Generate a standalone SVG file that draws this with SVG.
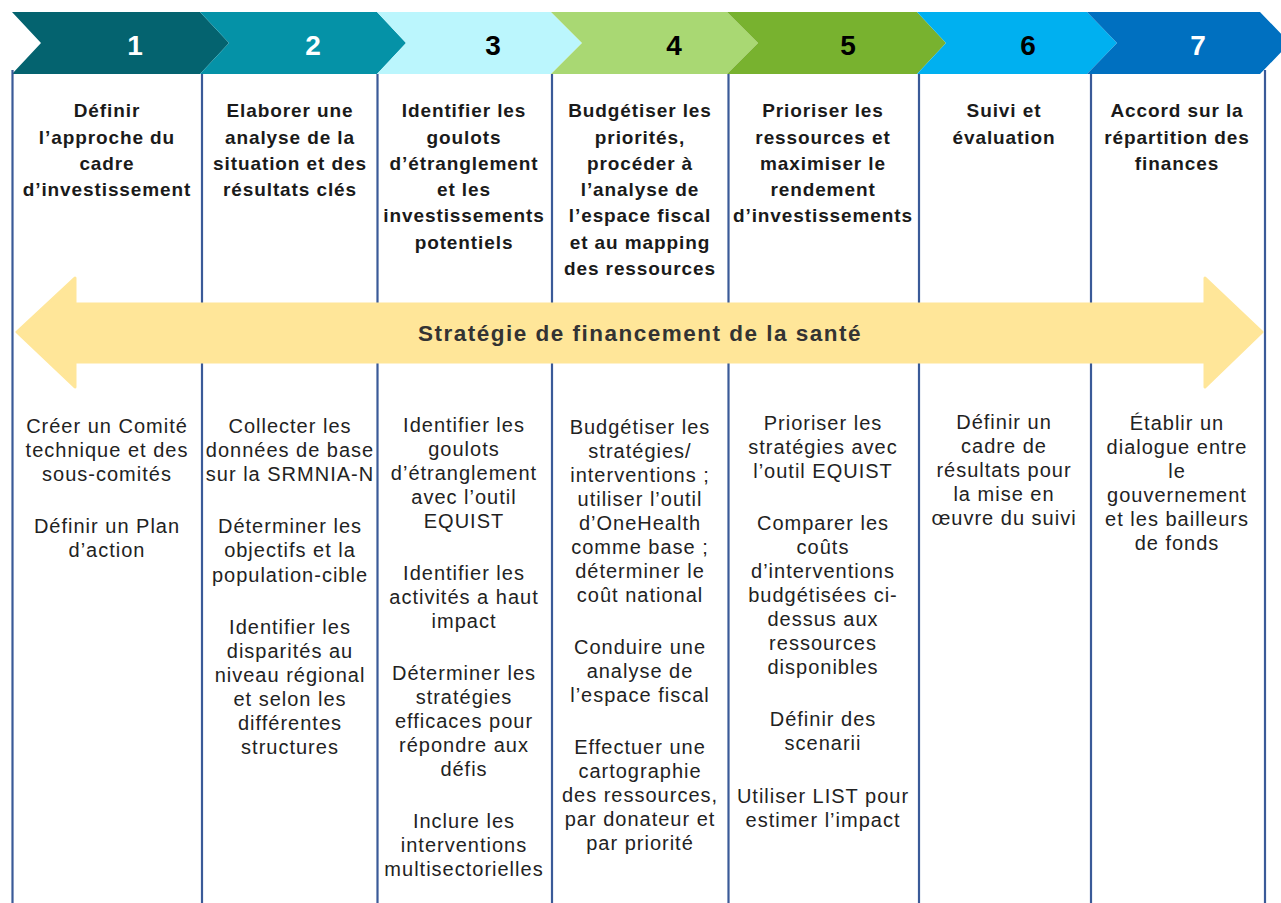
<svg xmlns="http://www.w3.org/2000/svg" width="1281" height="903" viewBox="0 0 1281 903">
<style>
.num{font-family:"Liberation Sans",Arial,sans-serif;font-weight:bold;font-size:28px;text-anchor:middle}
.hd{font-family:"Liberation Sans",Arial,sans-serif;font-weight:bold;font-size:19px;letter-spacing:0.9px;text-anchor:middle;fill:#1a1a1a}
.bd{font-family:"Liberation Sans",Arial,sans-serif;font-size:20px;letter-spacing:1px;text-anchor:middle;fill:#222}
.ttl{font-family:"Liberation Sans",Arial,sans-serif;font-weight:bold;font-size:22.5px;letter-spacing:1.5px;text-anchor:middle;fill:#333}
.div{stroke:#3A5A98;stroke-width:2.2;fill:none}
</style>
<rect width="1281" height="903" fill="#fff"/>
<g id="chevrons">
<polygon points="12,12 200,12 229,43 200,74 12,74 41,43" fill="#04636F"/>
<polygon points="200,12 377,12 406,43 377,74 200,74 229,43" fill="#0592A7"/>
<polygon points="377,12 551,12 582,43 551,74 377,74 406,43" fill="#BBF6FD"/>
<polygon points="551,12 727,12 758,43 727,74 551,74 582,43" fill="#A9D873"/>
<polygon points="727,12 917,12 946,43 917,74 727,74 758,43" fill="#78B22F"/>
<polygon points="917,12 1087,12 1117,43 1087,74 917,74 946,43" fill="#00B0F0"/>
<polygon points="1087,12 1260,12 1290,43 1260,74 1087,74 1117,43" fill="#0070C0"/>
<text class="num" x="135" y="55" fill="#fff">1</text>
<text class="num" x="313" y="55" fill="#fff">2</text>
<text class="num" x="493" y="55" fill="#000">3</text>
<text class="num" x="674" y="55" fill="#000">4</text>
<text class="num" x="848" y="55" fill="#000">5</text>
<text class="num" x="1028" y="55" fill="#000">6</text>
<text class="num" x="1198" y="55" fill="#fff">7</text>
</g>
<g id="connectors">
<line class="div" x1="12.5" y1="70" x2="12.5" y2="903"/>
<line class="div" x1="202" y1="74" x2="202" y2="903"/>
<line class="div" x1="377.5" y1="74" x2="377.5" y2="903"/>
<line class="div" x1="552" y1="74" x2="552" y2="903"/>
<line class="div" x1="728.5" y1="74" x2="728.5" y2="903"/>
<line class="div" x1="919" y1="74" x2="919" y2="903"/>
<line class="div" x1="1091" y1="74" x2="1091" y2="903"/>
<line class="div" x1="1265" y1="70" x2="1265" y2="903"/>
</g>
<g id="arrow">
<polygon points="17,332 75,278 75,304 1205,304 1205,278 1262,332 1205,387 1205,362 75,362 75,387" fill="#FFE699" stroke="#FFE699" stroke-width="3" stroke-linejoin="round"/>
<text class="ttl" x="640" y="341">Stratégie de financement de la santé</text>
</g>
<g id="step1">
<text class="hd" x="107" y="117">Définir</text>
<text class="hd" x="107" y="144">l’approche du</text>
<text class="hd" x="107" y="170">cadre</text>
<text class="hd" x="107" y="196">d’investissement</text>
<text class="bd" x="107" y="433">Créer un Comité</text>
<text class="bd" x="107" y="457">technique et des</text>
<text class="bd" x="107" y="481">sous-comités</text>
<text class="bd" x="107" y="533">Définir un Plan</text>
<text class="bd" x="107" y="557">d’action</text>
</g>
<g id="step2">
<text class="hd" x="290" y="117">Elaborer une</text>
<text class="hd" x="290" y="144">analyse de la</text>
<text class="hd" x="290" y="170">situation et des</text>
<text class="hd" x="290" y="196">résultats clés</text>
<text class="bd" x="290" y="433">Collecter les</text>
<text class="bd" x="290" y="457">données de base</text>
<text class="bd" x="290" y="481">sur la SRMNIA-N</text>
<text class="bd" x="290" y="533">Déterminer les</text>
<text class="bd" x="290" y="557">objectifs et la</text>
<text class="bd" x="290" y="582">population-cible</text>
<text class="bd" x="290" y="634">Identifier les</text>
<text class="bd" x="290" y="658">disparités au</text>
<text class="bd" x="290" y="682">niveau régional</text>
<text class="bd" x="290" y="706">et selon les</text>
<text class="bd" x="290" y="730">différentes</text>
<text class="bd" x="290" y="754">structures</text>
</g>
<g id="step3">
<text class="hd" x="464" y="117">Identifier les</text>
<text class="hd" x="464" y="144">goulots</text>
<text class="hd" x="464" y="170">d’étranglement</text>
<text class="hd" x="464" y="196">et les</text>
<text class="hd" x="464" y="222">investissements</text>
<text class="hd" x="464" y="249">potentiels</text>
<text class="bd" x="464" y="432">Identifier les</text>
<text class="bd" x="464" y="456">goulots</text>
<text class="bd" x="464" y="480">d’étranglement</text>
<text class="bd" x="464" y="504">avec l’outil</text>
<text class="bd" x="464" y="528">EQUIST</text>
<text class="bd" x="464" y="580">Identifier les</text>
<text class="bd" x="464" y="604">activités a haut</text>
<text class="bd" x="464" y="628">impact</text>
<text class="bd" x="464" y="680">Déterminer les</text>
<text class="bd" x="464" y="704">stratégies</text>
<text class="bd" x="464" y="728">efficaces pour</text>
<text class="bd" x="464" y="752">répondre aux</text>
<text class="bd" x="464" y="776">défis</text>
<text class="bd" x="464" y="828">Inclure les</text>
<text class="bd" x="464" y="852">interventions</text>
<text class="bd" x="464" y="876">multisectorielles</text>
</g>
<g id="step4">
<text class="hd" x="640" y="117">Budgétiser les</text>
<text class="hd" x="640" y="144">priorités,</text>
<text class="hd" x="640" y="170">procéder à</text>
<text class="hd" x="640" y="196">l’analyse de</text>
<text class="hd" x="640" y="222">l’espace fiscal</text>
<text class="hd" x="640" y="249">et au mapping</text>
<text class="hd" x="640" y="275">des ressources</text>
<text class="bd" x="640" y="434">Budgétiser les</text>
<text class="bd" x="640" y="458">stratégies/</text>
<text class="bd" x="640" y="482">interventions ;</text>
<text class="bd" x="640" y="506">utiliser l’outil</text>
<text class="bd" x="640" y="530">d’OneHealth</text>
<text class="bd" x="640" y="554">comme base ;</text>
<text class="bd" x="640" y="578">déterminer le</text>
<text class="bd" x="640" y="602">coût national</text>
<text class="bd" x="640" y="654">Conduire une</text>
<text class="bd" x="640" y="678">analyse de</text>
<text class="bd" x="640" y="702">l’espace fiscal</text>
<text class="bd" x="640" y="754">Effectuer une</text>
<text class="bd" x="640" y="778">cartographie</text>
<text class="bd" x="640" y="802">des ressources,</text>
<text class="bd" x="640" y="826">par donateur et</text>
<text class="bd" x="640" y="850">par priorité</text>
</g>
<g id="step5">
<text class="hd" x="823" y="117">Prioriser les</text>
<text class="hd" x="823" y="144">ressources et</text>
<text class="hd" x="823" y="170">maximiser le</text>
<text class="hd" x="823" y="196">rendement</text>
<text class="hd" x="823" y="222">d’investissements</text>
<text class="bd" x="823" y="430">Prioriser les</text>
<text class="bd" x="823" y="454">stratégies avec</text>
<text class="bd" x="823" y="478">l’outil EQUIST</text>
<text class="bd" x="823" y="530">Comparer les</text>
<text class="bd" x="823" y="554">coûts</text>
<text class="bd" x="823" y="578">d’interventions</text>
<text class="bd" x="823" y="602">budgétisées ci-</text>
<text class="bd" x="823" y="626">dessus aux</text>
<text class="bd" x="823" y="650">ressources</text>
<text class="bd" x="823" y="674">disponibles</text>
<text class="bd" x="823" y="726">Définir des</text>
<text class="bd" x="823" y="750">scenarii</text>
<text class="bd" x="823" y="803">Utiliser LIST pour</text>
<text class="bd" x="823" y="827">estimer l’impact</text>
</g>
<g id="step6">
<text class="hd" x="1004" y="117">Suivi et</text>
<text class="hd" x="1004" y="144">évaluation</text>
<text class="bd" x="1004" y="429">Définir un</text>
<text class="bd" x="1004" y="453">cadre de</text>
<text class="bd" x="1004" y="477">résultats pour</text>
<text class="bd" x="1004" y="501">la mise en</text>
<text class="bd" x="1004" y="525">œuvre du suivi</text>
</g>
<g id="step7">
<text class="hd" x="1177" y="117">Accord sur la</text>
<text class="hd" x="1177" y="144">répartition des</text>
<text class="hd" x="1177" y="170">finances</text>
<text class="bd" x="1177" y="430">Établir un</text>
<text class="bd" x="1177" y="454">dialogue entre</text>
<text class="bd" x="1177" y="478">le</text>
<text class="bd" x="1177" y="502">gouvernement</text>
<text class="bd" x="1177" y="526">et les bailleurs</text>
<text class="bd" x="1177" y="550">de fonds</text>
</g>
</svg>
